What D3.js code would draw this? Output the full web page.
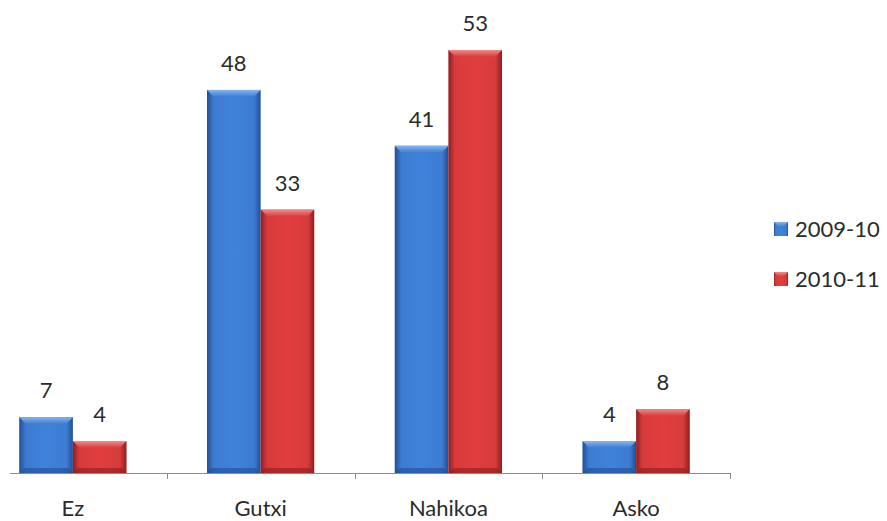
<!DOCTYPE html>
<html>
<head>
<meta charset="utf-8">
<script src="https://cdn.jsdelivr.net/npm/d3@7"></script>
<style>
  body { margin: 0; background: #fff; }
  text { font-family: Lato, "Open Sans", sans-serif; fill: #2b2b2b; }
</style>
</head>
<body>
<script>
var categories = ['Ez', 'Gutxi', 'Nahikoa', 'Asko'];
var seriesNames = ['2009-10', '2010-11'];
var values2009 = [7, 48, 41, 4];
var values2010 = [4, 33, 53, 8];

var colors = {
  '2009-10': { main: '#3d7bd0', light: '#86b6f0', dark: '#1f4f96' },
  '2010-11': { main: '#d63b3b', light: '#f28a8a', dark: '#8f1d1d' }
};

var width = 887, height = 521;
var svg = d3.select('body').append('svg').attr('width', width).attr('height', height);

var x = d3.scaleBand().domain(categories).range([-21, 730]).paddingInner(0).paddingOuter(0);
var inner = d3.scaleBand().domain(seriesNames).range([0, x.bandwidth()]).paddingOuter(0.75).paddingInner(0);
var y = d3.scaleLinear().domain([0, 53]).range([473, 50]);

// gradients
var defs = svg.append('defs');
seriesNames.forEach(function (s, i) {
  var c = colors[s];
  var g = defs.append('linearGradient').attr('id', 'g' + i).attr('x1', 0).attr('x2', 1).attr('y1', 0).attr('y2', 0);
  g.append('stop').attr('offset', '0%').attr('stop-color', c.dark);
  g.append('stop').attr('offset', '12%').attr('stop-color', c.main);
  g.append('stop').attr('offset', '50%').attr('stop-color', d3.color(c.main).brighter(0.15));
  g.append('stop').attr('offset', '88%').attr('stop-color', c.main);
  g.append('stop').attr('offset', '100%').attr('stop-color', c.dark);
  var t = defs.append('linearGradient').attr('id', 't' + i).attr('x1', 0).attr('x2', 0).attr('y1', 0).attr('y2', 1);
  t.append('stop').attr('offset', '0%').attr('stop-color', c.light);
  t.append('stop').attr('offset', '100%').attr('stop-color', c.main);
});

var rows = categories.map(function (c, i) {
  return { cat: c, vals: [values2009[i], values2010[i]] };
});

var groups = svg.selectAll('g.cat').data(rows).enter().append('g')
  .attr('class', 'cat')
  .attr('transform', function (d) { return 'translate(' + x(d.cat) + ',0)'; });

var bars = groups.selectAll('g.bar').data(function (d) {
  return d.vals.map(function (v, i) { return { s: seriesNames[i], i: i, v: v }; });
}).enter().append('g').attr('class', 'bar');

var bw = inner.bandwidth();
var bev = 7;

bars.append('rect')
  .attr('x', function (d) { return inner(d.s); })
  .attr('y', function (d) { return y(d.v); })
  .attr('width', bw)
  .attr('height', function (d) { return y(0) - y(d.v); })
  .attr('fill', function (d) { return 'url(#g' + d.i + ')'; });

// top bevel
bars.append('path')
  .attr('d', function (d) {
    var x0 = inner(d.s), y0 = y(d.v);
    return 'M' + x0 + ',' + y0 + 'L' + (x0 + bw) + ',' + y0 +
      'L' + (x0 + bw - bev) + ',' + (y0 + bev) + 'L' + (x0 + bev) + ',' + (y0 + bev) + 'Z';
  })
  .attr('fill', function (d) { return 'url(#t' + d.i + ')'; });

// bottom shade
bars.append('path')
  .attr('d', function (d) {
    var x0 = inner(d.s), y0 = y(0);
    return 'M' + x0 + ',' + y0 + 'L' + (x0 + bw) + ',' + y0 +
      'L' + (x0 + bw - 5) + ',' + (y0 - 5) + 'L' + (x0 + 5) + ',' + (y0 - 5) + 'Z';
  })
  .attr('fill', function (d) { return colors[d.s].dark; })
  .attr('opacity', 0.6);

bars.append('text')
  .attr('x', function (d) { return inner(d.s) + bw / 2; })
  .attr('y', function (d) { return y(d.v) - 19; })
  .attr('text-anchor', 'middle')
  .attr('font-size', 22)
  .text(function (d) { return d.v; });

// axis
var axis = svg.append('g');
axis.append('line').attr('x1', 10).attr('x2', 730).attr('y1', 473.5).attr('y2', 473.5)
  .attr('stroke', '#8c8c8c').attr('stroke-width', 1);
axis.selectAll('line.tick').data(categories).enter().append('line')
  .attr('class', 'tick')
  .attr('x1', function (d) { return Math.round(x(d) + x.bandwidth()) + 0.5; })
  .attr('x2', function (d) { return Math.round(x(d) + x.bandwidth()) + 0.5; })
  .attr('y1', 473).attr('y2', 479)
  .attr('stroke', '#8c8c8c');
axis.selectAll('text').data(categories).enter().append('text')
  .attr('x', function (d) { return x(d) + x.bandwidth() / 2; })
  .attr('y', 516)
  .attr('text-anchor', 'middle')
  .attr('font-size', 22)
  .text(function (d) { return d; });

// legend
var legend = svg.selectAll('g.legend').data(seriesNames).enter().append('g')
  .attr('class', 'legend')
  .attr('transform', function (d, i) { return 'translate(774,' + (222 + i * 50) + ')'; });
legend.append('rect').attr('width', 14).attr('height', 14)
  .attr('fill', function (d, i) { return 'url(#g' + i + ')'; });
legend.append('path').attr('d', 'M0,0L14,0L9,5L5,5Z')
  .attr('fill', function (d, i) { return 'url(#t' + i + ')'; });
legend.append('text').attr('x', 21).attr('y', 15).attr('font-size', 22)
  .text(function (d) { return d; });
</script>
</body>
</html>
